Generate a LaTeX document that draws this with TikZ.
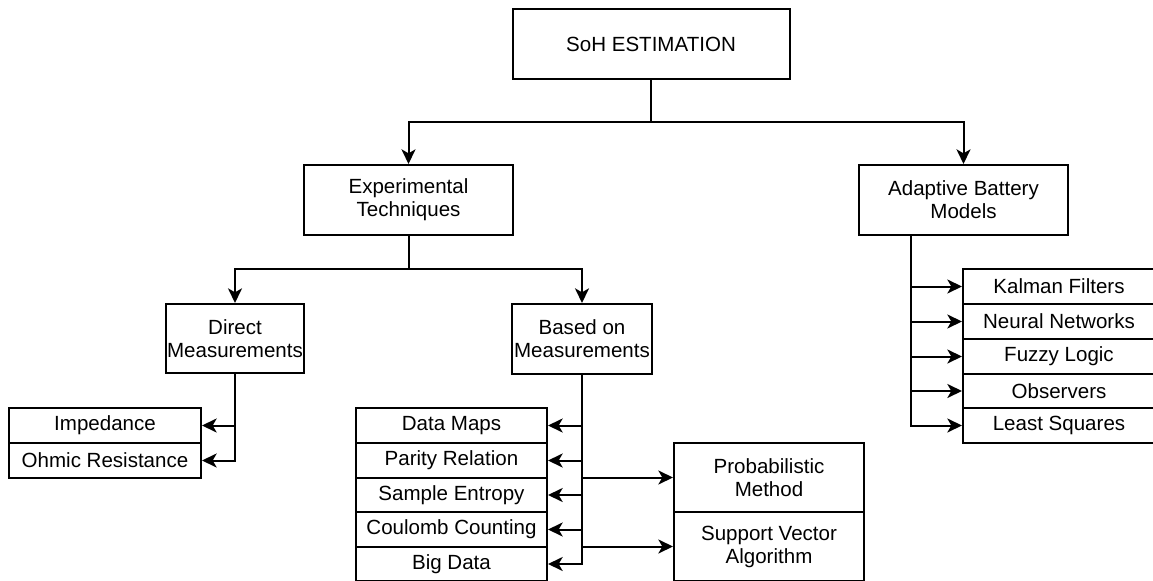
\documentclass[tikz,border=0pt]{standalone}
\usepackage{fontspec}
\setmainfont{Liberation Sans}
\usetikzlibrary{arrows.meta}
\newcommand{\dgfont}{\fontsize{15.4}{17.3}\selectfont}
\tikzset{
  bx/.style 2 args={draw, line width=1.5pt, inner sep=0pt, align=center,
    minimum width=#1*0.75pt, minimum height=#2*0.75pt, font=\dgfont},
  ln/.style={line width=1.5pt},
  arr/.style={line width=1.5pt, -{Stealth[length=11pt,width=10.5pt,inset=3pt]}}
}
\begin{document}
\begin{tikzpicture}[x=0.75pt,y=-0.75pt]
\useasboundingbox (0,0) rectangle (1153,581);
\clip (0,0) rectangle (1153,581);
% top levels
\node[bx={277}{70}] (soh) at (651,44) {SoH ESTIMATION};
\node[bx={209}{70}] (exp) at (408.5,200) {Experimental\\Techniques};
\node[bx={209}{70}] (abm) at (963.5,200) {Adaptive Battery\\Models};
\node[bx={138}{69}] (dm) at (235,338.5) {Direct\\Measurements};
\node[bx={140}{70}] (bm) at (582,339) {Based on\\Measurements};
% direct measurement list
\node[bx={192}{35}] (imp) at (105,425.5) {Impedance};
\node[bx={192}{35}] (ohm) at (105,460.5) {Ohmic Resistance};
% based on measurements list
\node[bx={191}{35}] (dmap) at (451.5,425.5) {Data Maps};
\node[bx={191}{35}] (par) at (451.5,460.5) {Parity Relation};
\node[bx={191}{34}] (sam) at (451.5,495) {Sample Entropy};
\node[bx={191}{35}] (cou) at (451.5,529.5) {Coulomb Counting};
\node[bx={191}{34}] (big) at (451.5,564) {Big Data};
\node[bx={190}{69}] (prob) at (769,477.5) {Probabilistic\\Method};
\node[bx={190}{69}] (svm) at (769,546.5) {Support Vector\\Algorithm};
% adaptive list
\node[bx={192}{35}] (kal) at (1059,286.5) {Kalman Filters};
\node[bx={192}{35}] (nn) at (1059,321.5) {Neural Networks};
\node[bx={192}{35}] (fl) at (1059,356.5) {Fuzzy Logic};
\node[bx={192}{34}] (obs) at (1059,391) {Observers};
\node[bx={192}{35}] (ls) at (1059,425.5) {Least Squares};
% connectors
\coordinate (j1) at (651,122);
\draw[ln] (soh.south) -- (j1);
\draw[arr] (j1) -| (exp.north);
\draw[arr] (j1) -| (abm.north);
\coordinate (j2) at (408.5,269);
\draw[ln] (exp.south) -- (j2);
\draw[arr] (j2) -| (dm.north);
\draw[arr] (j2) -| (bm.north);
\draw[arr] (dm.south) |- (imp.east);
\draw[arr] (dm.south) |- (ohm.east);
\draw[arr] (bm.south) |- (dmap.east);
\draw[arr] (bm.south) |- (par.east);
\draw[arr] (bm.south) |- (sam.east);
\draw[arr] (bm.south) |- (cou.east);
\draw[arr] (bm.south) |- (big.east);
\draw[arr] (bm.south) |- (prob.west);
\draw[arr] (bm.south) |- (svm.west);
\coordinate (a0) at (911,235);
\draw[arr] (a0) |- (kal.west);
\draw[arr] (a0) |- (nn.west);
\draw[arr] (a0) |- (fl.west);
\draw[arr] (a0) |- (obs.west);
\draw[arr] (a0) |- (ls.west);
\end{tikzpicture}
\end{document}
